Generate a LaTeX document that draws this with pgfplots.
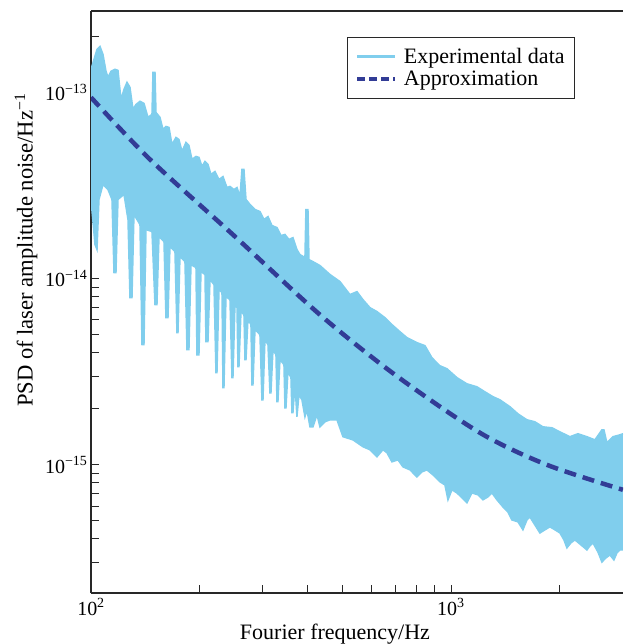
\documentclass[border=0pt]{standalone}
\usepackage{fontspec}
\setmainfont{Liberation Serif}
\usepackage{pgfplots}
\usepackage{pgfplotstable}
\pgfplotsset{compat=1.18}
\usepgfplotslibrary{fillbetween}
\usetikzlibrary{calc}
\definecolor{expblue}{RGB}{128,206,237}
\definecolor{apprblue}{RGB}{50,60,150}
\definecolor{axgray}{RGB}{40,40,40}
\newcommand\lblfont{\fontsize{22}{26}\selectfont}
\newcommand\ylblfont{\fontsize{22.6}{26}\selectfont}
\newcommand\tckfont{\fontsize{20}{24}\selectfont}

% log10 values: lx = log10(f/Hz), ly = log10(PSD)
\pgfplotstableread{
lx ly
2.000 -12.876
2.0083 -12.823
2.0167 -12.769
2.025 -12.753
2.0333 -12.796
2.0417 -12.887
2.0472 -12.919
2.0556 -12.887
2.0667 -12.876
2.075 -12.882
2.0833 -13.038
2.0917 -12.984
2.1 -12.946
2.1083 -12.973
2.1167 -13.091
2.125 -13.065
2.1361 -13.048
2.1472 -13.059
2.1583 -13.134
2.1694 -13.118
2.1722 -12.892
2.1778 -12.892
2.1806 -13.108
2.1917 -13.134
2.2 -13.199
2.2083 -13.183
2.2167 -13.188
2.225 -13.280
2.2361 -13.242
2.2444 -13.253
2.2528 -13.317
2.2639 -13.269
2.2722 -13.285
2.2806 -13.360
2.2917 -13.344
2.3 -13.349
2.3083 -13.398
2.3167 -13.371
2.325 -13.387
2.3333 -13.441
2.3444 -13.425
2.3556 -13.468
2.3667 -13.452
2.3778 -13.511
2.3861 -13.505
2.3972 -13.522
2.4056 -13.511
2.4139 -13.559
2.4194 -13.414
2.425 -13.414
2.4306 -13.575
2.4417 -13.602
2.4556 -13.629
2.4694 -13.640
2.4806 -13.683
2.4917 -13.667
2.5028 -13.715
2.5167 -13.726
2.5278 -13.769
2.5389 -13.763
2.55 -13.790
2.5611 -13.780
2.5722 -13.844
2.5806 -13.871
2.5944 -13.887
2.5972 -13.629
2.6028 -13.629
2.6056 -13.898
2.6167 -13.909
2.6361 -13.930
2.6639 -13.978
2.6917 -14.016
2.7194 -14.086
2.7389 -14.070
2.7556 -14.113
2.775 -14.156
2.7944 -14.177
2.8167 -14.210
2.8361 -14.247
2.8583 -14.285
2.8778 -14.317
2.9056 -14.344
2.9278 -14.360
2.9472 -14.425
2.9694 -14.468
2.9889 -14.484
3.0167 -14.532
3.0444 -14.565
3.0722 -14.581
3.0944 -14.608
3.1167 -14.634
3.1361 -14.651
3.1639 -14.688
3.1861 -14.726
3.2111 -14.758
3.2333 -14.769
3.2556 -14.796
3.2806 -14.801
3.3028 -14.823
3.3306 -14.849
3.3528 -14.833
3.3778 -14.849
3.4 -14.866
3.4194 -14.812
3.425 -14.812
3.4333 -14.882
3.45 -14.849
3.4694 -14.839
3.4778 -14.833
}\upperdata

\pgfplotstableread{
lx ly
2.000 -13.575
2.0111 -13.817
2.0167 -13.844
2.0222 -13.575
2.0333 -13.495
2.0472 -13.522
2.0583 -13.575
2.0639 -13.968
2.0694 -13.968
2.075 -13.575
2.0917 -13.548
2.1028 -13.683
2.1083 -14.102
2.1139 -14.102
2.1194 -13.656
2.1361 -13.710
2.1417 -14.355
2.1472 -14.355
2.1528 -13.737
2.1694 -13.747
2.1778 -14.140
2.1833 -14.140
2.1889 -13.774
2.2028 -13.801
2.2083 -14.210
2.2139 -14.210
2.2194 -13.828
2.2333 -13.855
2.2389 -14.290
2.2417 -14.290
2.2472 -13.882
2.2611 -13.909
2.2667 -14.382
2.2722 -14.382
2.2778 -13.925
2.2917 -13.941
2.2944 -14.409
2.3 -14.409
2.3056 -13.962
2.3167 -13.978
2.3194 -14.339
2.325 -14.339
2.3306 -14.005
2.3417 -14.032
2.3472 -14.505
2.35 -14.505
2.3556 -14.059
2.3639 -14.075
2.3667 -14.586
2.3694 -14.586
2.375 -14.097
2.3861 -14.113
2.3917 -14.532
2.3944 -14.532
2.4 -14.140
2.4056 -14.156
2.4083 -14.473
2.4111 -14.473
2.4167 -14.177
2.425 -14.194
2.4278 -14.435
2.4306 -14.435
2.4361 -14.220
2.4444 -14.247
2.4472 -14.570
2.45 -14.570
2.4556 -14.274
2.4694 -14.301
2.475 -14.651
2.4778 -14.651
2.4833 -14.328
2.4917 -14.355
2.4972 -14.613
2.5 -14.613
2.5056 -14.382
2.5139 -14.409
2.5167 -14.661
2.5194 -14.661
2.525 -14.435
2.5361 -14.462
2.5389 -14.694
2.5417 -14.694
2.5472 -14.500
2.5556 -14.532
2.5583 -14.720
2.5611 -14.720
2.5667 -14.570
2.5722 -14.742
2.5778 -14.624
2.5861 -14.651
2.5944 -14.742
2.6 -14.704
2.6083 -14.796
2.6167 -14.796
2.6278 -14.731
2.6361 -14.796
2.65 -14.769
2.6639 -14.758
2.6833 -14.758
2.7 -14.849
2.7278 -14.866
2.7556 -14.903
2.775 -14.919
2.7944 -14.957
2.8111 -14.919
2.8222 -14.935
2.8361 -14.984
2.8528 -14.973
2.8667 -15.011
2.8861 -15.027
2.9056 -15.065
2.9194 -15.038
2.9333 -15.027
2.95 -15.054
2.9694 -15.091
2.9833 -15.108
2.9917 -15.188
3.0028 -15.134
3.0167 -15.151
3.0306 -15.177
3.0444 -15.204
3.0583 -15.151
3.075 -15.161
3.0889 -15.188
3.1028 -15.172
3.1139 -15.151
3.1278 -15.188
3.1444 -15.226
3.1583 -15.253
3.1694 -15.296
3.1861 -15.306
3.2 -15.349
3.2111 -15.296
3.2194 -15.280
3.2333 -15.323
3.2472 -15.366
3.2611 -15.349
3.275 -15.333
3.2889 -15.349
3.3028 -15.366
3.3139 -15.403
3.3222 -15.446
3.3333 -15.419
3.3444 -15.403
3.3611 -15.430
3.3778 -15.457
3.3861 -15.435
3.3944 -15.419
3.4083 -15.468
3.4194 -15.522
3.4306 -15.500
3.4417 -15.484
3.4528 -15.511
3.4611 -15.473
3.4694 -15.457
3.4778 -15.457
}\lowerdata

\pgfplotstableread{
lx ly
2.0 -13.027
2.1639 -13.360
2.4 -13.774
2.6361 -14.194
2.8444 -14.516
3.0806 -14.828
3.2667 -15.000
3.4778 -15.134
}\approxdata

\begin{document}
\begin{tikzpicture}
\begin{axis}[
  width=532pt, height=582pt, scale only axis,
  xmode=log, ymode=log,
  xmin=100, xmax=3006, ymin=2.05e-16, ymax=2.735e-13,
  axis x line*=box, axis y line*=left,
  axis line style={axgray, line width=1.2pt, -},
  tick align=inside, tick pos=left,
  major tick length=8pt, minor tick length=8pt,
  every tick/.style={axgray, line width=0.9pt},
  xtick={100,1000}, xticklabels={10\textsuperscript{2},10\textsuperscript{3}},
  minor xtick={200,300,400,500,600,700,800,900,2000},
  ytick={1e-15,1e-14,1e-13},
  yticklabels={10\textsuperscript{−15},10\textsuperscript{−14},10\textsuperscript{−13}},
  minor ytick={3e-16,4e-16,5e-16,6e-16,7e-16,8e-16,9e-16,2e-15,3e-15,4e-15,5e-15,6e-15,7e-15,8e-15,9e-15,2e-14,3e-14,4e-14,5e-14,6e-14,7e-14,8e-14,9e-14,2e-13},
  tick label style={font=\tckfont},
  xticklabel style={yshift=-2pt},
  xlabel={Fourier frequency/Hz},
  ylabel={PSD of laser amplitude noise/Hz\textsuperscript{−1}},
  every axis x label/.style={at={(axis description cs:0.4586,-0.0704)}, anchor=center, font=\lblfont},
  every axis y label/.style={at={(axis description cs:-0.1222,0.589)}, anchor=center, rotate=90, font=\ylblfont},
  legend style={at={(0.9098,0.9553)}, anchor=north east, draw=axgray, line width=0.8pt,
    font=\lblfont, inner xsep=8pt, inner ysep=9pt, row sep=2pt},
  legend cell align=left,
  legend image code/.code={\draw[#1] (0pt,0pt) -- (38pt,0pt);},
]
\coordinate (bbsw) at (rel axis cs:0,0);
\coordinate (bbne) at (rel axis cs:1,1);
\addplot[name path=up, draw=expblue, line width=1.5pt, forget plot]
  table[x expr=10^\thisrow{lx}, y expr=10^\thisrow{ly}] {\upperdata};
\addplot[name path=lo, draw=expblue, line width=1.5pt, forget plot]
  table[x expr=10^\thisrow{lx}, y expr=10^\thisrow{ly}] {\lowerdata};
\addplot[expblue, forget plot] fill between[of=up and lo];
\addplot[apprblue, line width=4.5pt, dash pattern=on 12pt off 7pt, smooth, forget plot]
  table[x expr=10^\thisrow{lx}, y expr=10^\thisrow{ly}] {\approxdata};
\addlegendimage{expblue, line width=3pt}
\addlegendentry{\hspace{5pt}Experimental data\hspace{12pt}}
\addlegendimage{apprblue, line width=3.5pt, dash pattern=on 8pt off 4pt}
\addlegendentry{\hspace{5pt}Approximation}
\end{axis}
\pgfresetboundingbox
\path ($(bbsw)+(-91pt,-51pt)$) rectangle ($(bbne)+(0pt,11pt)$);
\end{tikzpicture}
\end{document}
